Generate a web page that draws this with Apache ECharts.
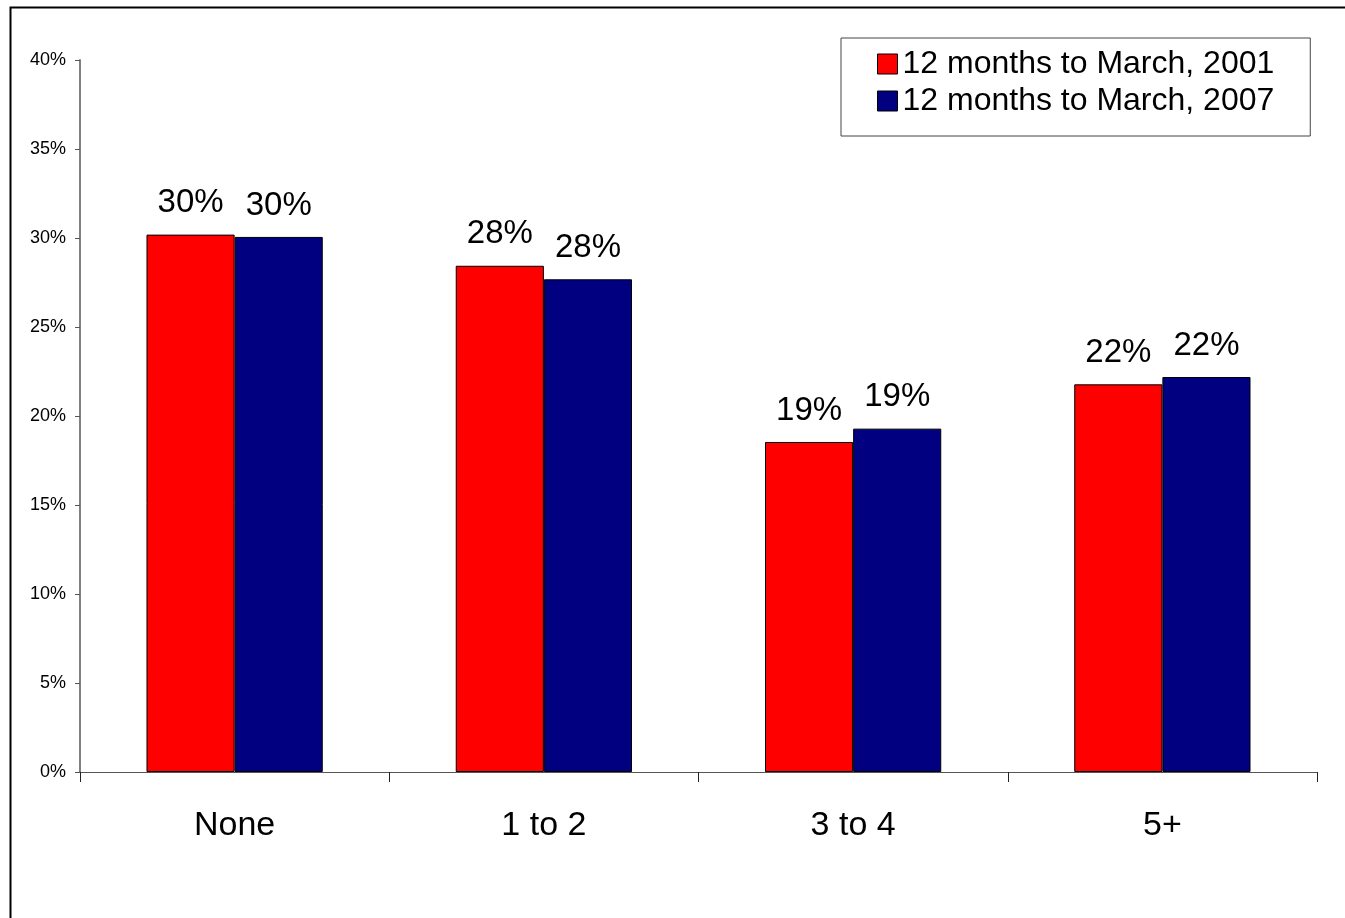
<!DOCTYPE html>
<html>
<head>
<meta charset="utf-8">
<title>Bar chart</title>
<script src="https://cdn.jsdelivr.net/npm/echarts@6/dist/echarts.min.js"></script>
<style>
  html, body { margin: 0; padding: 0; background: #fff; }
  #chart { width: 1345px; height: 918px; }
</style>
</head>
<body>
<div id="chart"></div>
<script>
// Categories and the two yearly series (shares, 0..1)
const categories = ['None', '1 to 2', '3 to 4', '5+'];
const seriesNames = ['12 months to March, 2001', '12 months to March, 2007'];
const values2001 = [0.3019, 0.2844, 0.1854, 0.2178];
const values2007 = [0.3006, 0.2768, 0.1929, 0.2219];

const FONT = '"Liberation Sans", Arial, sans-serif';
const pct = v => Math.round(v * 100) + '%';

const chart = echarts.init(document.getElementById('chart'), null, { renderer: 'canvas' });

function barSeries(name, data, color) {
  return {
    name: name,
    type: 'bar',
    data: data,
    barGap: '0%',
    barCategoryGap: '43%',
    itemStyle: { color: color, borderColor: '#000', borderWidth: 1 },
    label: {
      show: true,
      position: 'top',
      distance: 15,
      color: '#000',
      fontFamily: FONT,
      fontSize: 33,
      formatter: p => pct(p.value)
    }
  };
}

chart.setOption({
  backgroundColor: '#fff',
  animation: false,
  textStyle: { fontFamily: FONT },
  grid: { left: 80, right: 28, top: 60, bottom: 146, containLabel: false },
  legend: {
    orient: 'vertical',
    left: 841,
    top: 38,
    padding: [10, 36, 19, 36],
    itemGap: 5,
    itemWidth: 20,
    itemHeight: 20,
    borderColor: '#444',
    borderWidth: 1,
    backgroundColor: '#fff',
    icon: 'rect',
    textStyle: { fontFamily: FONT, fontSize: 32, color: '#000' },
    itemStyle: { borderColor: '#000', borderWidth: 1 },
    data: seriesNames
  },
  xAxis: {
    type: 'category',
    data: categories,
    axisLine: { lineStyle: { color: '#555', width: 1 } },
    axisTick: { show: true, length: 10, lineStyle: { color: '#222' } },
    axisLabel: { margin: 37, fontSize: 34, color: '#000', fontFamily: FONT },
    splitLine: { show: false }
  },
  yAxis: {
    type: 'value',
    min: 0,
    max: 0.4,
    interval: 0.05,
    axisLine: { show: true, lineStyle: { color: '#808080', width: 2 } },
    axisTick: { show: true, length: 5, lineStyle: { color: '#555' } },
    axisLabel: {
      margin: 14,
      fontSize: 18,
      color: '#000',
      fontFamily: FONT,
      formatter: v => pct(v)
    },
    splitLine: { show: false }
  },
  series: [
    barSeries(seriesNames[0], values2001, '#FF0000'),
    barSeries(seriesNames[1], values2007, '#000080')
  ],
  graphic: [
    {
      type: 'polyline',
      silent: true,
      shape: { points: [[10.5, 918], [10.5, 7.5], [1345, 7.5]] },
      style: { stroke: '#000', lineWidth: 2, fill: null }
    }
  ]
});
</script>
</body>
</html>
